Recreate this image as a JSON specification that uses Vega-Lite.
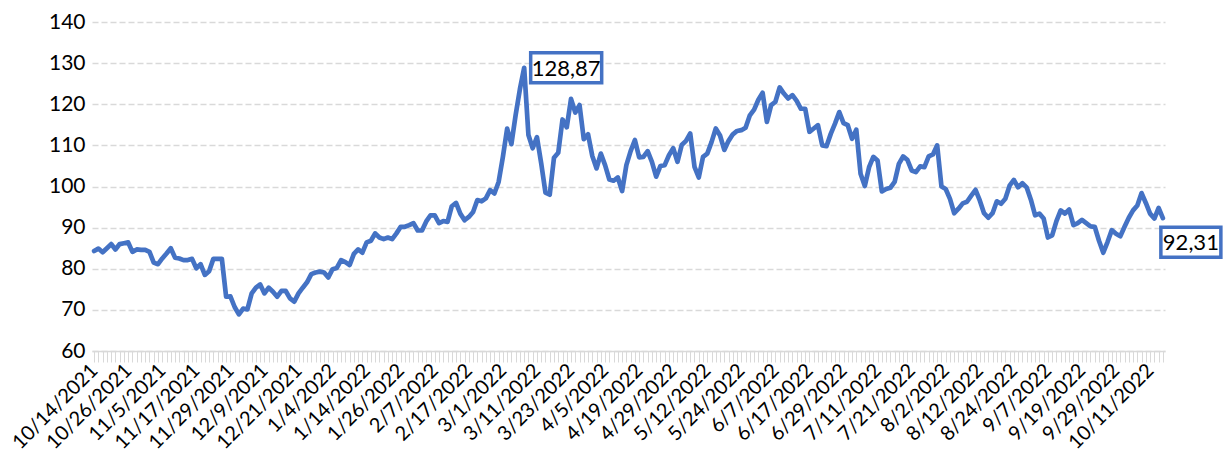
{
 "$schema": "https://vega.github.io/schema/vega-lite/v6.json",
 "width": 1073, "height": 329,
 "autosize": {"type": "none"},
 "padding": {"left": 92, "top": 22, "right": 59, "bottom": 115},
 "background": "white",
 "config": {
   "view": {"stroke": null},
   "font": "Lato",
   "locale": {"number": {"decimal": ",", "thousands": ".", "grouping": [3], "currency": ["", ""]}}
 },
 "data": {"values": [
  {"d":"10/14/2021","v":84.3},{"d":"10/15/2021","v":84.9},{"d":"10/18/2021","v":84.0},{"d":"10/19/2021","v":85.0},{"d":"10/20/2021","v":86.0},{"d":"10/21/2021","v":84.7},{"d":"10/22/2021","v":86.0},{"d":"10/25/2021","v":86.2},
  {"d":"10/26/2021","v":86.4},{"d":"10/27/2021","v":84.1},{"d":"10/28/2021","v":84.7},{"d":"10/29/2021","v":84.6},{"d":"11/1/2021","v":84.6},{"d":"11/2/2021","v":84.1},{"d":"11/3/2021","v":81.5},{"d":"11/4/2021","v":81.1},
  {"d":"11/5/2021","v":82.5},{"d":"11/8/2021","v":83.7},{"d":"11/9/2021","v":85.0},{"d":"11/10/2021","v":82.7},{"d":"11/11/2021","v":82.5},{"d":"11/12/2021","v":82.1},{"d":"11/15/2021","v":82.1},{"d":"11/16/2021","v":82.4},
  {"d":"11/17/2021","v":80.1},{"d":"11/18/2021","v":81.1},{"d":"11/19/2021","v":78.5},{"d":"11/22/2021","v":79.4},{"d":"11/23/2021","v":82.4},{"d":"11/24/2021","v":82.4},{"d":"11/25/2021","v":82.4},{"d":"11/26/2021","v":73.2},
  {"d":"11/29/2021","v":73.3},{"d":"11/30/2021","v":70.7},{"d":"12/1/2021","v":68.9},{"d":"12/2/2021","v":70.3},{"d":"12/3/2021","v":70.1},{"d":"12/6/2021","v":74.0},{"d":"12/7/2021","v":75.4},{"d":"12/8/2021","v":76.2},
  {"d":"12/9/2021","v":74.0},{"d":"12/10/2021","v":75.4},{"d":"12/13/2021","v":74.4},{"d":"12/14/2021","v":73.2},{"d":"12/15/2021","v":74.6},{"d":"12/16/2021","v":74.6},{"d":"12/17/2021","v":72.8},{"d":"12/20/2021","v":72.0},
  {"d":"12/21/2021","v":74.0},{"d":"12/22/2021","v":75.4},{"d":"12/23/2021","v":76.7},{"d":"12/24/2021","v":78.7},{"d":"12/29/2021","v":79.1},{"d":"12/30/2021","v":79.3},{"d":"12/31/2021","v":79.1},{"d":"1/3/2022","v":77.9},
  {"d":"1/4/2022","v":79.9},{"d":"1/5/2022","v":80.2},{"d":"1/6/2022","v":82.1},{"d":"1/7/2022","v":81.6},{"d":"1/10/2022","v":80.9},{"d":"1/11/2022","v":83.6},{"d":"1/12/2022","v":84.7},{"d":"1/13/2022","v":83.9},
  {"d":"1/14/2022","v":86.4},{"d":"1/17/2022","v":86.8},{"d":"1/18/2022","v":88.6},{"d":"1/19/2022","v":87.6},{"d":"1/20/2022","v":87.2},{"d":"1/21/2022","v":87.6},{"d":"1/24/2022","v":87.2},{"d":"1/25/2022","v":88.6},
  {"d":"1/26/2022","v":90.2},{"d":"1/27/2022","v":90.2},{"d":"1/28/2022","v":90.6},{"d":"1/31/2022","v":91.1},{"d":"2/1/2022","v":89.3},{"d":"2/2/2022","v":89.3},{"d":"2/3/2022","v":91.5},{"d":"2/4/2022","v":93.0},
  {"d":"2/7/2022","v":93.0},{"d":"2/8/2022","v":91.1},{"d":"2/9/2022","v":91.6},{"d":"2/10/2022","v":91.4},{"d":"2/11/2022","v":95.2},{"d":"2/14/2022","v":96.0},{"d":"2/15/2022","v":93.4},{"d":"2/16/2022","v":91.8},
  {"d":"2/17/2022","v":92.6},{"d":"2/18/2022","v":93.8},{"d":"2/21/2022","v":96.7},{"d":"2/22/2022","v":96.4},{"d":"2/23/2022","v":97.1},{"d":"2/24/2022","v":99.1},{"d":"2/25/2022","v":98.3},{"d":"2/28/2022","v":101.1},
  {"d":"3/1/2022","v":107.2},{"d":"3/2/2022","v":114.1},{"d":"3/3/2022","v":110.3},{"d":"3/4/2022","v":117.4},{"d":"3/7/2022","v":123.7},{"d":"3/8/2022","v":128.87},{"d":"3/9/2022","v":112.5},{"d":"3/10/2022","v":109.3},
  {"d":"3/11/2022","v":112.0},{"d":"3/14/2022","v":105.6},{"d":"3/15/2022","v":98.5},{"d":"3/16/2022","v":98.0},{"d":"3/17/2022","v":107.0},{"d":"3/18/2022","v":108.2},{"d":"3/21/2022","v":116.3},{"d":"3/22/2022","v":114.4},
  {"d":"3/23/2022","v":121.3},{"d":"3/24/2022","v":118.0},{"d":"3/28/2022","v":119.8},{"d":"3/29/2022","v":111.5},{"d":"3/30/2022","v":112.7},{"d":"3/31/2022","v":107.4},{"d":"4/1/2022","v":104.4},{"d":"4/4/2022","v":108.0},
  {"d":"4/5/2022","v":105.2},{"d":"4/6/2022","v":101.7},{"d":"4/7/2022","v":101.4},{"d":"4/8/2022","v":102.2},{"d":"4/11/2022","v":98.9},{"d":"4/12/2022","v":105.2},{"d":"4/13/2022","v":108.6},{"d":"4/14/2022","v":111.3},
  {"d":"4/19/2022","v":107.1},{"d":"4/20/2022","v":107.2},{"d":"4/21/2022","v":108.6},{"d":"4/22/2022","v":106.0},{"d":"4/25/2022","v":102.4},{"d":"4/26/2022","v":105.0},{"d":"4/27/2022","v":105.2},{"d":"4/28/2022","v":107.6},
  {"d":"4/29/2022","v":109.3},{"d":"5/3/2022","v":106.0},{"d":"5/4/2022","v":110.1},{"d":"5/5/2022","v":111.1},{"d":"5/6/2022","v":112.9},{"d":"5/9/2022","v":104.8},{"d":"5/10/2022","v":102.2},{"d":"5/11/2022","v":107.2},
  {"d":"5/12/2022","v":108.0},{"d":"5/13/2022","v":110.8},{"d":"5/16/2022","v":114.1},{"d":"5/17/2022","v":112.4},{"d":"5/18/2022","v":108.9},{"d":"5/19/2022","v":111.1},{"d":"5/20/2022","v":112.7},{"d":"5/23/2022","v":113.5},
  {"d":"5/24/2022","v":113.7},{"d":"5/25/2022","v":114.3},{"d":"5/26/2022","v":117.3},{"d":"5/27/2022","v":118.7},{"d":"5/30/2022","v":121.1},{"d":"5/31/2022","v":122.8},{"d":"6/1/2022","v":115.7},{"d":"6/6/2022","v":119.8},
  {"d":"6/7/2022","v":120.6},{"d":"6/8/2022","v":124.1},{"d":"6/9/2022","v":122.6},{"d":"6/10/2022","v":121.4},{"d":"6/13/2022","v":122.2},{"d":"6/14/2022","v":120.8},{"d":"6/15/2022","v":118.9},{"d":"6/16/2022","v":118.9},
  {"d":"6/17/2022","v":113.3},{"d":"6/20/2022","v":114.1},{"d":"6/21/2022","v":114.9},{"d":"6/22/2022","v":110.0},{"d":"6/23/2022","v":109.8},{"d":"6/24/2022","v":112.8},{"d":"6/27/2022","v":115.3},{"d":"6/28/2022","v":118.1},
  {"d":"6/29/2022","v":115.4},{"d":"6/30/2022","v":114.9},{"d":"7/1/2022","v":111.6},{"d":"7/4/2022","v":113.8},{"d":"7/5/2022","v":103.1},{"d":"7/6/2022","v":100.1},{"d":"7/7/2022","v":104.7},{"d":"7/8/2022","v":107.2},
  {"d":"7/11/2022","v":106.3},{"d":"7/12/2022","v":98.8},{"d":"7/13/2022","v":99.4},{"d":"7/14/2022","v":99.7},{"d":"7/15/2022","v":101.1},{"d":"7/18/2022","v":105.5},{"d":"7/19/2022","v":107.3},{"d":"7/20/2022","v":106.5},
  {"d":"7/21/2022","v":103.9},{"d":"7/22/2022","v":103.5},{"d":"7/25/2022","v":104.9},{"d":"7/26/2022","v":104.7},{"d":"7/27/2022","v":107.3},{"d":"7/28/2022","v":107.8},{"d":"7/29/2022","v":110.0},{"d":"8/1/2022","v":100.0},
  {"d":"8/2/2022","v":99.4},{"d":"8/3/2022","v":97.0},{"d":"8/4/2022","v":93.5},{"d":"8/5/2022","v":94.6},{"d":"8/8/2022","v":95.9},{"d":"8/9/2022","v":96.3},{"d":"8/10/2022","v":97.8},{"d":"8/11/2022","v":99.2},
  {"d":"8/12/2022","v":96.6},{"d":"8/15/2022","v":93.5},{"d":"8/16/2022","v":92.4},{"d":"8/17/2022","v":93.5},{"d":"8/18/2022","v":96.4},{"d":"8/19/2022","v":95.8},{"d":"8/22/2022","v":97.0},{"d":"8/23/2022","v":100.2},
  {"d":"8/24/2022","v":101.6},{"d":"8/25/2022","v":99.8},{"d":"8/26/2022","v":100.8},{"d":"8/30/2022","v":99.8},{"d":"8/31/2022","v":96.8},{"d":"9/1/2022","v":93.0},{"d":"9/2/2022","v":93.4},{"d":"9/6/2022","v":92.2},
  {"d":"9/7/2022","v":87.6},{"d":"9/8/2022","v":88.1},{"d":"9/9/2022","v":91.6},{"d":"9/12/2022","v":94.2},{"d":"9/13/2022","v":93.4},{"d":"9/14/2022","v":94.4},{"d":"9/15/2022","v":90.6},{"d":"9/16/2022","v":91.1},
  {"d":"9/19/2022","v":91.9},{"d":"9/20/2022","v":91.1},{"d":"9/21/2022","v":90.3},{"d":"9/22/2022","v":90.2},{"d":"9/23/2022","v":86.8},{"d":"9/26/2022","v":83.9},{"d":"9/27/2022","v":86.5},{"d":"9/28/2022","v":89.4},
  {"d":"9/29/2022","v":88.5},{"d":"9/30/2022","v":87.9},{"d":"10/3/2022","v":90.2},{"d":"10/4/2022","v":92.4},{"d":"10/5/2022","v":94.2},{"d":"10/6/2022","v":95.4},{"d":"10/7/2022","v":98.4},{"d":"10/10/2022","v":96.0},
  {"d":"10/11/2022","v":93.4},{"d":"10/12/2022","v":92.2},{"d":"10/13/2022","v":94.8},{"d":"10/14/2022","v":92.31}
 ]},
 "encoding": {
   "x": {"field": "d", "type": "ordinal", "sort": null, "title": null,
     "axis": {
       "labelExpr": "indexof(['10/14/2021','10/26/2021','11/5/2021','11/17/2021','11/29/2021','12/9/2021','12/21/2021','1/4/2022','1/14/2022','1/26/2022','2/7/2022','2/17/2022','3/1/2022','3/11/2022','3/23/2022','4/5/2022','4/19/2022','4/29/2022','5/12/2022','5/24/2022','6/7/2022','6/17/2022','6/29/2022','7/11/2022','7/21/2022','8/2/2022','8/12/2022','8/24/2022','9/7/2022','9/19/2022','9/29/2022','10/11/2022'], datum.value) >= 0 ? datum.value : ''",
       "labelAngle": -45, "labelAlign": "right", "labelBaseline": "middle",
       "labelFontSize": 20, "labelColor": "black", "labelPadding": 5, "labelOverlap": false,
       "tickColor": "#d9d9d9", "tickSize": 11, "tickWidth": 1,
       "domainColor": "#d9d9d9", "domainWidth": 1.5, "grid": false
     }},
   "y": {"field": "v", "type": "quantitative", "title": null,
     "scale": {"domain": [60, 140], "nice": false, "zero": false},
     "axis": {"values": [60,70,80,90,100,110,120,130,140], "grid": true, "gridColor": "#d9d9d9", "gridDash": [6,3], "gridWidth": 1.3,
       "domain": false, "ticks": false, "labelFontSize": 21, "labelColor": "black", "labelPadding": 7}}
 },
 "layer": [
   {"mark": {"type": "line", "color": "#4472C4", "strokeWidth": 4.7, "strokeJoin": "round", "strokeCap": "round"}},
   {"transform": [{"filter": "datum.d == '3/8/2022'"}],
    "mark": {"type": "point", "shape": "M-1,-0.4225L1,-0.4225L1,0.4225L-1,0.4225Z", "size": 5041, "filled": true, "fill": "white", "stroke": "#4472C4", "strokeWidth": 3.5, "opacity": 1, "fillOpacity": 1, "strokeOpacity": 1, "xOffset": 42, "yOffset": 0}},
   {"transform": [{"filter": "datum.d == '3/8/2022'"}],
    "mark": {"type": "text", "fontSize": 22, "color": "black", "align": "center", "baseline": "middle", "xOffset": 42, "yOffset": 1},
    "encoding": {"text": {"field": "v", "type": "quantitative", "format": ".2f"}}},
   {"transform": [{"filter": "datum.d == '10/14/2022'"}],
    "mark": {"type": "point", "shape": "M-1,-0.5L1,-0.5L1,0.5L-1,0.5Z", "size": 3600, "filled": true, "fill": "white", "stroke": "#4472C4", "strokeWidth": 3.5, "opacity": 1, "fillOpacity": 1, "strokeOpacity": 1, "xOffset": 28, "yOffset": 24}},
   {"transform": [{"filter": "datum.d == '10/14/2022'"}],
    "mark": {"type": "text", "fontSize": 22, "color": "black", "align": "center", "baseline": "middle", "xOffset": 28, "yOffset": 25},
    "encoding": {"text": {"field": "v", "type": "quantitative", "format": ".2f"}}}
 ]
}
